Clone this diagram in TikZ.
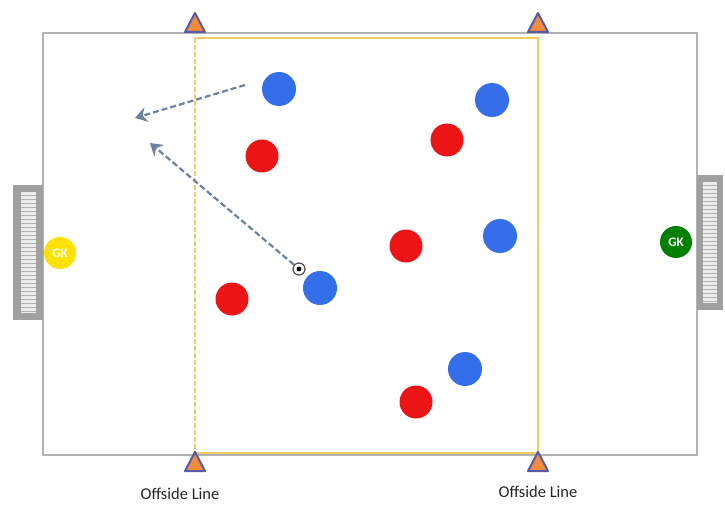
\documentclass[tikz,border=0pt]{standalone}
\usepackage{fontspec}
\setmainfont{Carlito}
\usetikzlibrary{arrows.meta}
\definecolor{bluplayer}{RGB}{52,110,235}
\definecolor{redplayer}{RGB}{236,20,20}
\definecolor{offline}{RGB}{235,205,100}
\definecolor{marker}{RGB}{240,140,60}
\definecolor{goalgray}{RGB}{160,160,160}
\definecolor{runline}{RGB}{110,130,160}
\tikzset{
  blu/.style={circle, fill=bluplayer, minimum size=34pt, inner sep=0pt},
  rosso/.style={circle, fill=redplayer, minimum size=33pt, inner sep=0pt},
  portiere/.style={circle, minimum size=32pt, inner sep=0pt, text=white, font=\bfseries\fontsize{13}{13}\selectfont},
  cono/.style={fill=marker, draw=gray!70!blue, line width=2pt, line join=round},
  corsa/.style={runline, dash pattern=on 6pt off 3pt, line width=2.2pt, -{Stealth[length=12pt,width=15pt,inset=4pt]}},
  etichetta/.style={font=\fontsize{16.5}{16}\selectfont, text=black!85}
}
\begin{document}
\begin{tikzpicture}[x=1pt,y=-1pt]
  \useasboundingbox[fill=white] (0,0) rectangle (725,505);
  % Campo
  \draw[gray!60, line width=2.2pt] (43,33) rectangle (697,455);
  % Porte
  \fill[goalgray] (13,185) rectangle (43,320);
  \fill[gray!15] (21,192) rectangle (36,313);
  \foreach \y in {195,199,...,311}
    \draw[gray!60, line width=0.8pt] (21,\y) -- (36,\y);
  \fill[goalgray] (697,175) rectangle (723,310);
  \fill[gray!15] (703,182) rectangle (717,303);
  \foreach \y in {185,189,...,301}
    \draw[gray!60, line width=0.8pt] (703,\y) -- (717,\y);
  % Zona di fuorigioco
  \draw[offline, line width=2.6pt] (195,38) -- (538,38) -- (538,453) -- (195,453);
  \draw[offline, line width=2.6pt, dash pattern=on 5pt off 2pt] (195,38) -- (195,453);
  % Coni
  \foreach \x in {195,538} {
    \filldraw[cono] (\x,13) -- (\x+10,32) -- (\x-10,32) -- cycle;
    \filldraw[cono] (\x,452) -- (\x+10,471) -- (\x-10,471) -- cycle;
  }
  \node[etichetta] (lab1) at (180,494) {Offside Line};
  \node[etichetta] (lab2) at (538,492) {Offside Line};
  % Portieri
  \node[portiere, fill=yellow!85!orange] (gk1) at (60,253) {GK};
  \node[portiere, fill=green!50!black] (gk2) at (676,242) {GK};
  % Giocatori blu
  \node[blu] (b1) at (279,89) {};
  \node[blu] (b2) at (492,100) {};
  \node[blu] (b3) at (500,236) {};
  \node[blu] (b4) at (320,288) {};
  \node[blu] (b5) at (465,369) {};
  % Giocatori rossi
  \node[rosso] (r1) at (262,156) {};
  \node[rosso] (r2) at (447,140) {};
  \node[rosso] (r3) at (406,246) {};
  \node[rosso] (r4) at (232,299) {};
  \node[rosso] (r5) at (416,402) {};
  % Palla
  \node[circle, draw=black!70, line width=1.2pt, fill=white, minimum size=12pt, inner sep=0pt] (palla) at (299,269) {};
  \fill[black] (palla) circle (2.4);
  % Movimenti
  \coordinate (s1) at (245,85);
  \coordinate (e1) at (135,118);
  \coordinate (e2) at (150,143);
  \draw[corsa] (s1) -- (e1);
  \draw[corsa] (palla) -- (e2);
\end{tikzpicture}
\end{document}
